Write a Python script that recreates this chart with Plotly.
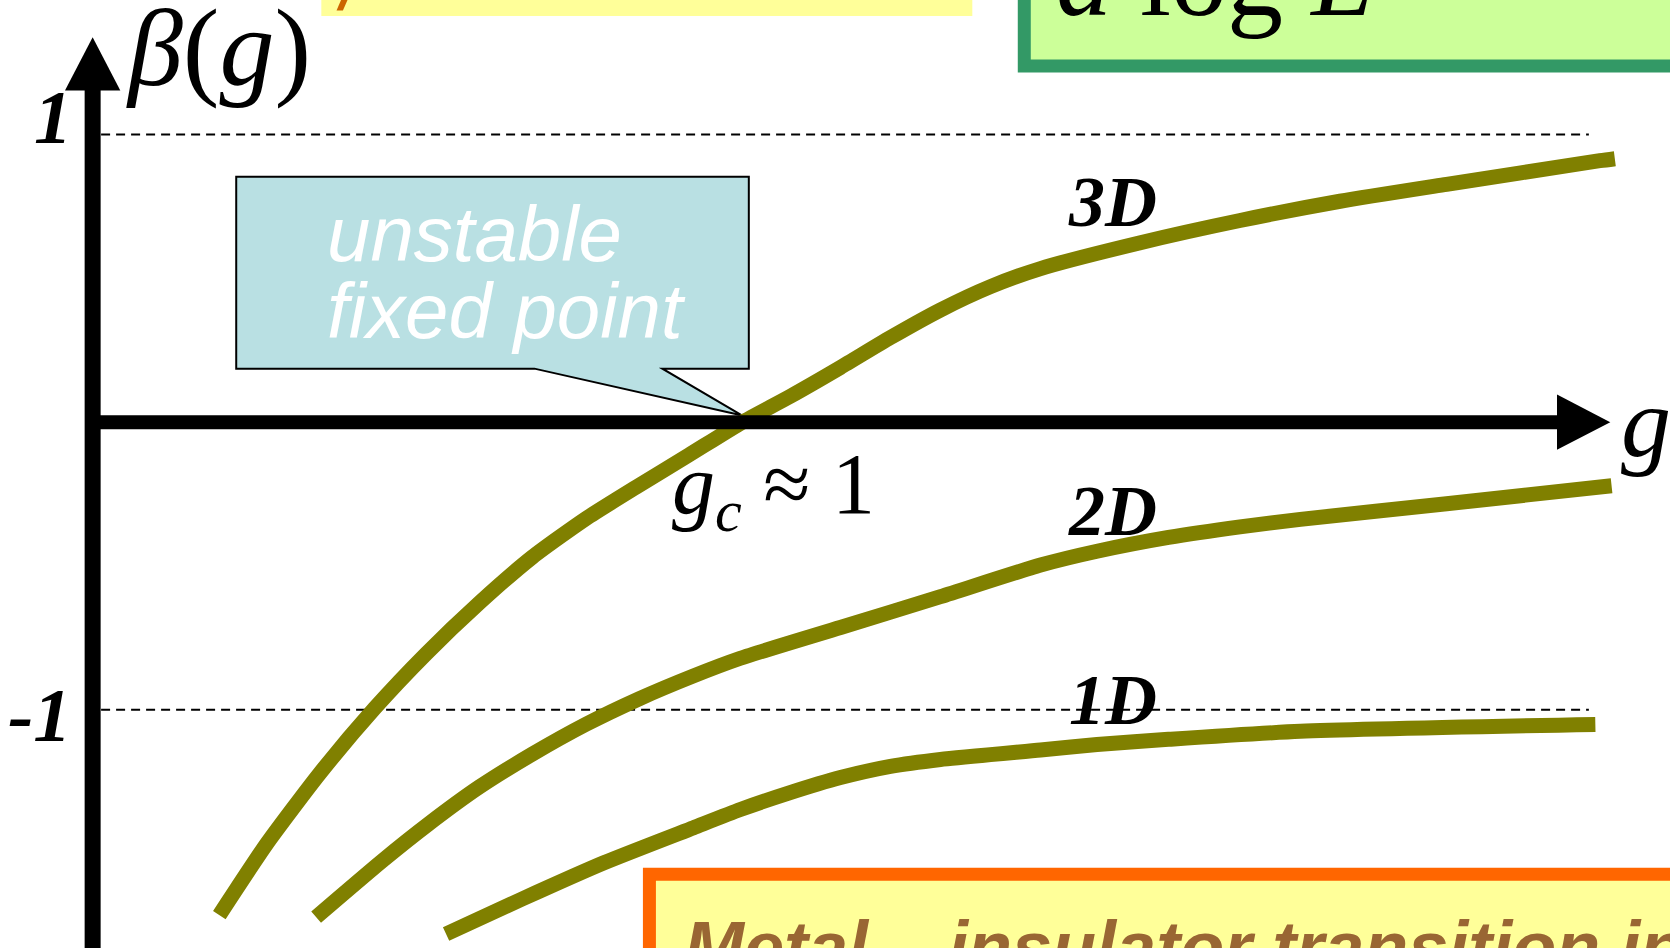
import plotly.graph_objects as go

# ---------------- data (g, beta) ----------------
g_3d = [0.195, 0.267, 0.349, 0.434, 0.513, 0.595, 0.677, 0.759, 0.836, 0.918, 1.000,
        1.074, 1.151, 1.228, 1.305, 1.382, 1.459, 1.611, 1.766, 1.920, 2.084, 2.320, 2.343]
beta_3d = [-1.714, -1.469, -1.223, -0.995, -0.806, -0.629, -0.469, -0.336, -0.227, -0.114,
           0.000, 0.090, 0.190, 0.294, 0.390, 0.471, 0.534, 0.623, 0.701, 0.768, 0.827,
           0.909, 0.916]

g_2d = [0.344, 0.446, 0.516, 0.595, 0.677, 0.759, 0.841, 0.923, 0.997, 1.151, 1.305,
        1.459, 1.546, 1.656, 1.766, 1.859, 2.084, 2.338]
beta_2d = [-1.721, -1.525, -1.399, -1.269, -1.154, -1.051, -0.962, -0.884, -0.821, -0.714,
           -0.607, -0.497, -0.449, -0.401, -0.364, -0.338, -0.284, -0.221]

g_1d = [0.544, 0.661, 0.787, 0.925, 0.997, 1.070, 1.151, 1.228, 1.305, 1.459, 1.546,
        1.656, 1.859, 2.313]
beta_1d = [-1.780, -1.658, -1.532, -1.410, -1.347, -1.291, -1.236, -1.197, -1.173, -1.140,
           -1.121, -1.103, -1.075, -1.051]

curve_names = ["3D", "2D", "1D"]
label_pos = [(1.570, 0.764), (1.570, -0.310), (1.570, -0.965)]
ref_levels = [1, -1]
g_c = 1.0

OLIVE = "#808000"
X_RANGE = [-0.1426, 2.4279]
Y_RANGE = [-1.8285, 1.4678]

fig = go.Figure()
for gx, by in [(g_3d, beta_3d), (g_2d, beta_2d), (g_1d, beta_1d)]:
    fig.add_trace(go.Scatter(x=gx, y=by, mode="lines",
                             line=dict(color=OLIVE, width=15, shape="spline", smoothing=0.6),
                             hoverinfo="skip", showlegend=False))

shapes = []
# background decorative boxes
shapes.append(dict(type="rect", xref="x", yref="y", x0=0.352, x1=1.354, y0=1.412, y1=1.7,
                   fillcolor="#ffff99", line=dict(width=0), layer="below"))
shapes.append(dict(type="path", xref="x", yref="y",
                   path="M0.3754,1.431 L0.3852,1.431 L0.3984,1.50 L0.3885,1.50 Z",
                   fillcolor="#cc6600", line=dict(width=0)))
shapes.append(dict(type="rect", xref="x", yref="y", x0=1.434, x1=2.6, y0=1.238, y1=1.7,
                   fillcolor="#ccff99", line=dict(color="#339966", width=13), layer="below"))
shapes.append(dict(type="rect", xref="x", yref="y", x0=0.857, x1=2.6, y0=-2.2, y1=-1.572,
                   fillcolor="#ffff99", line=dict(color="#ff6600", width=13), layer="above"))

# dashed reference levels
for lv in ref_levels:
    shapes.append(dict(type="line", xref="x", yref="y", x0=0.013, x1=2.303, y0=lv, y1=lv,
                       line=dict(color="black", width=2, dash="9px,6px"), layer="below"))

# callout box with pointer to g_c
shapes.append(dict(type="path", xref="x", yref="y",
                   path=("M0.221,0.853 L1.010,0.853 L1.010,0.186 L0.877,0.186 "
                         f"L{g_c},0.023 L0.680,0.186 L0.221,0.186 Z"),
                   fillcolor="#b9e0e3", line=dict(color="black", width=2), layer="below"))

# axes with arrows
shapes.append(dict(type="line", xref="x", yref="y", x0=0, x1=2.26, y0=0, y1=0,
                   line=dict(color="black", width=14)))
shapes.append(dict(type="path", xref="x", yref="y",
                   path="M2.254,0.096 L2.336,0 L2.254,-0.096 Z",
                   fillcolor="black", line=dict(width=0)))
shapes.append(dict(type="line", xref="x", yref="y", x0=0, x1=0, y0=-2.0, y1=1.16,
                   line=dict(color="black", width=16)))
shapes.append(dict(type="path", xref="x", yref="y",
                   path="M-0.0426,1.153 L0,1.338 L0.0426,1.153 Z",
                   fillcolor="black", line=dict(width=0)))

ann = []
SERIF = "Liberation Serif, Times New Roman, serif"
NARROW = "Liberation Sans Narrow, Arial Narrow, Liberation Sans, sans-serif"
for name, (gx, by) in zip(curve_names, label_pos):
    ann.append(dict(x=gx, y=by, text=f"<b><i>{name}</i></b>", showarrow=False,
                    font=dict(family=SERIF, size=72, color="black"),
                    xanchor="center", yanchor="middle"))
ann.append(dict(x=-0.061, y=1.0, yshift=18, text="<b><i>1</i></b>", showarrow=False,
                font=dict(family=SERIF, size=76, color="black"), xanchor="center", yanchor="middle"))
ann.append(dict(x=-0.082, y=-1.0, yshift=-5, text="<b><i>-1</i></b>", showarrow=False,
                font=dict(family=SERIF, size=76, color="black"), xanchor="center", yanchor="middle"))
ann.append(dict(x=0.048, y=1.301, text="<i>β</i>(<i>g</i>)", showarrow=False,
                font=dict(family=SERIF, size=110, color="black"), xanchor="left", yanchor="middle"))
ann.append(dict(x=2.349, y=0.0, text="<i>g</i>", showarrow=False,
                font=dict(family=SERIF, size=100, color="black"), xanchor="left", yanchor="middle"))
ann.append(dict(x=0.888, y=-0.236, text="<i>g</i><sub><i>c</i></sub> ≈ 1", showarrow=False,
                font=dict(family=SERIF, size=86, color="black"), xanchor="left", yanchor="middle"))
ann.append(dict(x=0.357, y=0.655, text="<i>unstable</i>", showarrow=False,
                font=dict(family=NARROW, size=78, color="white"), xanchor="left", yanchor="middle"))
ann.append(dict(x=0.357, y=0.385, text="<i>fixed point</i>", showarrow=False,
                font=dict(family=NARROW, size=78, color="white"), xanchor="left", yanchor="middle"))
ann.append(dict(x=1.48, y=1.40, yshift=43, text="<i>d</i> log <i>L</i>", showarrow=False,
                font=dict(family=SERIF, size=112, color="black"), xanchor="left", yanchor="middle"))
ann.append(dict(x=0.907, y=-1.68, text="<b><i>Metal – insulator transition in</i></b>", showarrow=False,
                font=dict(family=NARROW, size=72, color="#996633"), xanchor="left", yanchor="top"))

fig.update_layout(
    width=1670, height=948, margin=dict(l=0, r=0, t=0, b=0),
    paper_bgcolor="white", plot_bgcolor="white",
    xaxis=dict(range=X_RANGE, visible=False, fixedrange=True),
    yaxis=dict(range=Y_RANGE, visible=False, fixedrange=True),
    shapes=shapes, annotations=ann, showlegend=False,
)

fig.write_html("out.html", config={"displayModeBar": False},
               post_script="document.body.style.margin='0';document.body.style.overflow='hidden';")
